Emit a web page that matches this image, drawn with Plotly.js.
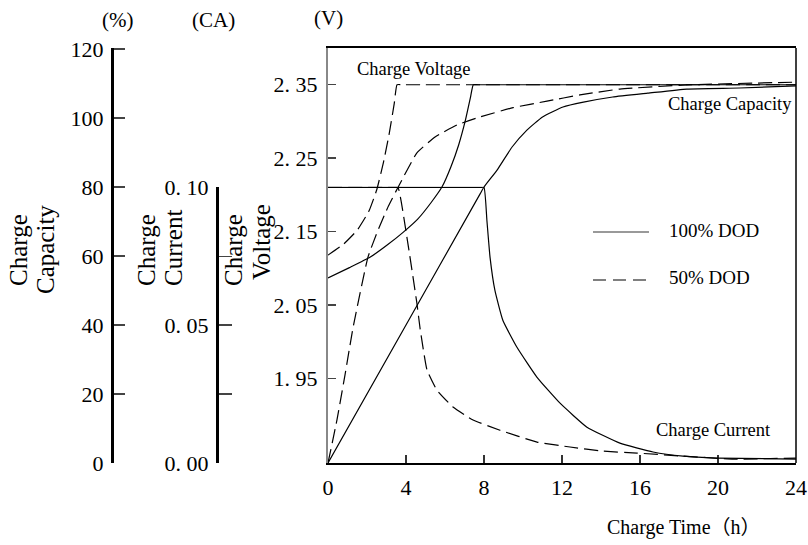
<!DOCTYPE html>
<html>
<head>
<meta charset="utf-8">
<script src="https://cdn.plot.ly/plotly-3.0.1.min.js"></script>
<style>html,body{margin:0;padding:0;background:#fff;}#chart{width:808px;height:545px;}</style>
</head>
<body>
<div id="chart"></div>
<script>
// ---- data ----
const timeTicks = [0, 4, 8, 12, 16, 20, 24];
const voltTicks = [1.95, 2.05, 2.15, 2.25, 2.35];
const voltTickText = ['1. 95', '2. 05', '2. 15', '2. 25', '2. 35'];
const capTicks = [0, 20, 40, 60, 80, 100, 120];
const capTickText = ['0', '20', '40', '60', '80', '100', '120'];
const curTicks = [0, 0.025, 0.05, 0.075, 0.10];
const curTickText = ['0. 00', '', '0. 05', '', '0. 10'];

// Charge voltage (V)
const hoursVolt100 = [0, 1.1, 2.15, 3.0, 3.85, 4.6, 5.3, 5.85, 6.3, 6.7, 7.05, 7.3, 7.45, 7.7, 24];
const volt100 = [2.087, 2.101, 2.115, 2.131, 2.149, 2.167, 2.190, 2.211, 2.238, 2.268, 2.302, 2.332, 2.35, 2.35, 2.35];
const hoursVolt50 = [0, 0.8, 1.5, 2.1, 2.5, 2.85, 3.15, 3.4, 3.54, 3.8, 24];
const volt50 = [2.118, 2.133, 2.152, 2.178, 2.207, 2.245, 2.285, 2.325, 2.35, 2.35, 2.35];

// Charge capacity (%)
const hoursCap100 = [0, 4, 7.8, 8.0, 8.67, 9.44, 10.2, 11.0, 12.05, 13.1, 14.6, 16.4, 18.4, 21.1, 24];
const cap100 = [0, 40, 78, 80, 84.9, 91.6, 96.5, 100.3, 103.2, 104.6, 106.1, 107.2, 108.4, 108.7, 109.3];
const hoursCap50 = [0, 0.46, 0.87, 1.28, 2.05, 2.6, 3.1, 3.6, 4.56, 5.49, 6.62, 7.79, 9.49, 11.23, 12.92, 14.97, 18.41, 24];
const cap50 = [0, 12.5, 25.5, 39.1, 59.7, 68.0, 74.5, 80.0, 89.9, 94.5, 98.0, 100.3, 103.0, 104.9, 106.7, 108.4, 109.6, 110.4];

// Charge current (CA)
const hoursCur100 = [0, 7.8, 8.0, 8.15, 8.31, 8.56, 8.97, 9.69, 10.72, 11.9, 13.28, 14.97, 16.67, 18.2, 19.95, 24];
const cur100 = [0.1, 0.1, 0.1, 0.0879, 0.0746, 0.0626, 0.0517, 0.0420, 0.0311, 0.0217, 0.0130, 0.0072, 0.0040, 0.0025, 0.0018, 0.0014];
const hoursCur50 = [0, 3.4, 3.59, 4.05, 4.56, 4.72, 5.08, 5.59, 6.41, 7.44, 8.82, 10.72, 12.41, 14.10, 15.85, 18.2, 20.8, 24];
const cur50 = [0.1, 0.1, 0.1, 0.0818, 0.0579, 0.0489, 0.0337, 0.0264, 0.0203, 0.0156, 0.0119, 0.0076, 0.0058, 0.0043, 0.0036, 0.0025, 0.0014, 0.0018];

// ---- layout helpers ----
const W = 808, H = 545, ML = 0, MR = 12, MT = 48, MB = 82;
const PW = W - ML - MR, PH = H - MT - MB;
const px = x => (x - ML) / PW;
const py = y => (H - MB - y) / PH;
const SERIF = 'Liberation Serif, Times New Roman, serif';

const solid = {color: '#000', width: 1.2, dash: 'solid', shape: 'spline', smoothing: 0.4};
const dashed = {color: '#000', width: 1.2, dash: '14px,6px', shape: 'spline', smoothing: 0.4};

const traces = [
  {x: hoursVolt50, y: volt50, xaxis: 'x', yaxis: 'y', mode: 'lines', line: dashed, name: 'Voltage 50% DOD'},
  {x: hoursCap50, y: cap50, xaxis: 'x', yaxis: 'y2', mode: 'lines', line: dashed, name: 'Capacity 50% DOD'},
  {x: hoursCur50, y: cur50, xaxis: 'x', yaxis: 'y3', mode: 'lines', line: dashed, name: 'Current 50% DOD'},
  {x: hoursVolt100, y: volt100, xaxis: 'x', yaxis: 'y', mode: 'lines', line: solid, name: 'Voltage 100% DOD'},
  {x: hoursCap100, y: cap100, xaxis: 'x', yaxis: 'y2', mode: 'lines', line: solid, name: 'Capacity 100% DOD'},
  {x: hoursCur100, y: cur100, xaxis: 'x', yaxis: 'y3', mode: 'lines', line: solid, name: 'Current 100% DOD'}
];

const tickFont = {family: SERIF, size: 22, color: '#000'};
const domX0 = px(328);

const layout = {
  width: W, height: H,
  margin: {l: ML, r: MR, t: MT, b: MB, pad: 0},
  paper_bgcolor: '#fff', plot_bgcolor: 'rgba(0,0,0,0)',
  showlegend: false,
  font: {family: SERIF, color: '#000'},
  xaxis: {
    domain: [domX0, 1], range: [0, 24], anchor: 'y',
    tickmode: 'array', tickvals: timeTicks, ticktext: timeTicks.map(String),
    ticks: 'inside', ticklen: 8, tickwidth: 1.5, tickcolor: '#333',
    showline: true, linecolor: '#000', linewidth: 2, mirror: true,
    showgrid: false, zeroline: false, tickfont: tickFont, ticklabelstandoff: 4
  },
  yaxis: {
    range: [1.835, 2.40], anchor: 'x',
    tickmode: 'array', tickvals: voltTicks, ticktext: voltTickText,
    ticks: 'inside', ticklen: 8, tickwidth: 1.5, tickcolor: '#444',
    showline: true, linecolor: '#888', linewidth: 2,
    showgrid: false, zeroline: false, tickfont: tickFont, ticklabelstandoff: 4
  },
  yaxis2: {
    overlaying: 'y', anchor: 'free', position: px(112), side: 'left',
    range: [0, 120.3],
    tickmode: 'array', tickvals: capTicks, ticktext: capTickText,
    ticks: 'inside', ticklen: 11, tickwidth: 1.5, tickcolor: '#444',
    showline: true, linecolor: '#000', linewidth: 3,
    showgrid: false, zeroline: false, tickfont: tickFont, ticklabelstandoff: 3
  },
  yaxis3: {
    anchor: 'free', position: px(217), side: 'left',
    domain: [0, py(186.6)], range: [0, 0.1003],
    tickmode: 'array', tickvals: curTicks, ticktext: curTickText,
    ticks: 'inside', ticklen: 13, tickwidth: 1.5, tickcolor: '#444',
    showline: true, linecolor: '#000', linewidth: 3,
    showgrid: false, zeroline: false, tickfont: tickFont, ticklabelstandoff: 3
  },
  shapes: [
    // right frame
    {type: 'line', xref: 'paper', yref: 'paper', x0: 1, x1: 1, y0: 0, y1: 1, line: {color: '#000', width: 1.5}},
    // legend samples
    {type: 'line', xref: 'paper', yref: 'paper', x0: px(593), x1: px(649), y0: py(232), y1: py(232), line: {color: '#777', width: 1.5}},
    {type: 'line', xref: 'paper', yref: 'paper', x0: px(593), x1: px(649), y0: py(280), y1: py(280), line: {color: '#000', width: 1.2, dash: '13px,7px'}}
  ],
  annotations: []
};

function ann(text, x, y, opts) {
  layout.annotations.push(Object.assign({
    text: text, xref: 'paper', yref: 'paper', x: px(x), y: py(y),
    showarrow: false, xanchor: 'center', yanchor: 'middle',
    font: {family: SERIF, size: 18, color: '#000'}
  }, opts || {}));
}
// unit labels
const uf = {family: SERIF, size: 21, color: '#000'};
ann('(%)', 117, 20, {font: uf});
ann('(CA)', 213, 20, {font: uf});
ann('(V)', 328, 18, {font: uf});
// axis titles (rotated)
const vt = {family: SERIF, size: 25, color: '#000'};
ann('Charge', 18, 250, {textangle: -90, font: vt});
ann('Capacity', 45, 250, {textangle: -90, font: vt});
ann('Charge', 146, 250, {textangle: -90, font: vt});
ann('Current', 173, 248, {textangle: -90, font: vt});
ann('Charge', 233, 250, {textangle: -90, font: vt});
ann('Voltage', 261, 242, {textangle: -90, font: vt});
// x title
ann('Charge Time（h）', 684, 527, {font: {family: SERIF + ', Noto Sans CJK SC', size: 20, color: '#000'}});
// in-plot labels
ann('Charge Voltage', 414, 69, {font: {family: SERIF, size: 18.5, color: '#000'}});
ann('Charge Capacity', 794, 104, {xanchor: 'right', font: {family: SERIF, size: 18.5, color: '#000'}});
ann('Charge Current', 713, 430, {font: {family: SERIF, size: 18.5, color: '#000'}});
// legend text
ann('100% DOD', 667, 230, {xanchor: 'left', font: {family: SERIF, size: 19, color: '#000'}});
ann('50% DOD', 667, 277, {xanchor: 'left', font: {family: SERIF, size: 19, color: '#000'}});

Plotly.newPlot('chart', traces, layout, {displayModeBar: false, staticPlot: true});
</script>
</body>
</html>
